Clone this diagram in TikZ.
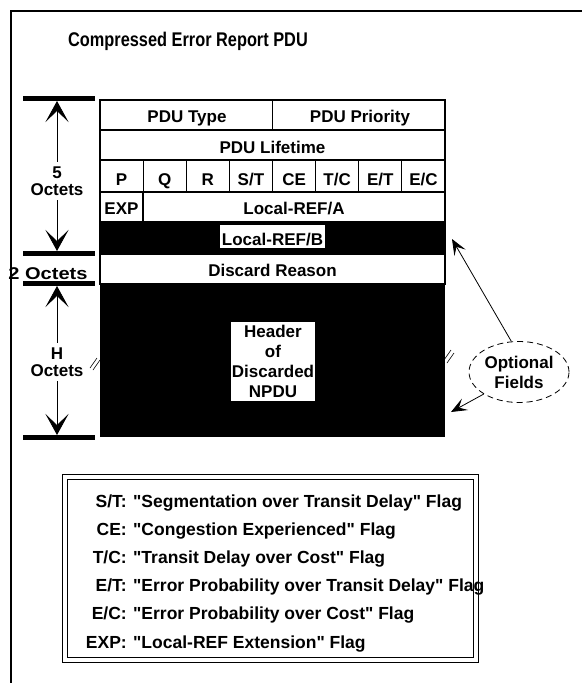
\documentclass[tikz,border=0pt]{standalone}
\usepackage{fontspec}
\setmainfont{Liberation Sans}
\usetikzlibrary{arrows.meta,shapes.geometric}

\begin{document}
\begin{tikzpicture}[x=1pt,y=-1pt,
    txt/.style={font=\bfseries\fontsize{17}{17}\selectfont},
    leg/.style={font=\bfseries\fontsize{17.5}{17}\selectfont, inner sep=0pt},
    bar/.style={line width=5pt},
    dim/.style={line width=0.8pt,
      {Stealth[length=21pt,width=23pt,inset=11pt]}-{Stealth[length=21pt,width=23pt,inset=11pt]}},
    ptr/.style={line width=0.8pt,-{Stealth[length=16pt,width=13pt,inset=7pt]}},
    grid/.style={line width=1.2pt}]
  \useasboundingbox (0,0) rectangle (582,683);

  % frame and title
  \draw[line width=2.5pt] (11,683) -- (11,11) -- (582,11);
  \node[font=\bfseries\fontsize{16.5}{20}\selectfont, anchor=base west, inner sep=0pt] (title) at (68,46) {\scalebox{0.99}[1.2]{Compressed Error Report PDU}};

  % black (optional) parts of the PDU
  \fill (100,222) rectangle (445,254);
  \fill (100,284) rectangle (445,437);

  % table
  \draw[grid] (100,100) rectangle (445,284);
  \foreach \y in {130,160,192,222,254}
      \draw[grid] (100,\y) -- (445,\y);
  \draw[grid] (272.5,100) -- (272.5,130);
  \foreach \i in {1,...,7}
      \draw[grid] (100+\i*43.125,160) -- (100+\i*43.125,192);
  \draw[grid] (143,192) -- (143,222);

  \node[txt, anchor=base] (type) at (187,122) {PDU Type};
  \node[txt, anchor=base] (prio) at (360,122) {PDU Priority};
  \node[txt, anchor=base] (life) at (272.5,153) {PDU Lifetime};
  \foreach \f [count=\i] in {P,Q,R,{S/T},CE,{T/C},{E/T},{E/C}}
    {
      \node[txt, anchor=base] (flag\i) at (100+\i*43.125-21.5625,185) {\f};
    }
  \node[txt, anchor=base] (exp) at (121.5,214) {EXP};
  \node[txt, anchor=base] (refa) at (294,214) {Local-REF/A};
  \node[txt, fill=white, inner sep=1.5pt, text height=19pt, text depth=1pt] (refb) at (272.5,236) {Local-REF/B};
  \node[txt, anchor=base] (reason) at (272.5,276) {Discard Reason};
  \node[font=\bfseries\fontsize{17}{20}\selectfont, fill=white, align=center,
        inner xsep=0.5pt, inner ysep=3pt] (npdu) at (273,361.5) {Header\\of\\Discarded\\NPDU};

  % break marks
  \draw[line width=0.6pt] (90,368) -- (97,358);
  \draw[line width=0.6pt] (93,370) -- (100,360);
  \draw[line width=0.6pt] (444,360) -- (451,350);
  \draw[line width=0.6pt] (447,363) -- (454,353);

  % size bars and arrows
  \foreach \y in {98.5,253.5,283.5,437.5}
    {
      \draw[bar] (23,\y) -- (95,\y);
    }
  \coordinate (top5) at (57,101);
  \coordinate (bot5) at (57,251);
  \coordinate (topH) at (57,286);
  \coordinate (botH) at (57,435);
  \draw[dim] (top5) -- (bot5);
  \draw[dim] (topH) -- (botH);
  \node[txt, fill=white, align=center, inner sep=5pt] (five) at (57,181) {5\\Octets};
  \node[txt, fill=white, align=center, inner sep=5pt] (hoct) at (57,362) {H\\Octets};
  \node[txt, anchor=base] (two) at (48,279) {\scalebox{1.18}[1]{2 Octets}};

  % optional fields
  \node[txt, ellipse, draw, dashed, dash pattern=on 6pt off 4pt, line width=0.8pt, align=center,
        inner sep=0pt, minimum width=100pt, minimum height=61pt] (opt) at (519,372) {Optional\\[3pt]Fields};
  \coordinate (refbtip) at (452,239);
  \coordinate (npdutip) at (451,412);
  \draw[ptr] (opt.104) -- (refbtip);
  \draw[ptr] (opt.212) -- (npdutip);

  % legend
  \draw[line width=1pt] (62,474) rectangle (478,662);
  \draw[line width=1pt] (67,479) rectangle (473,657);
  \foreach \k/\d [count=\i] in {{S/T}/{\textquotedbl Segmentation over Transit Delay\textquotedbl{} Flag},
                                 CE/{\textquotedbl Congestion Experienced\textquotedbl{} Flag},
                                 {T/C}/{\textquotedbl Transit Delay over Cost\textquotedbl{} Flag},
                                 {E/T}/{\textquotedbl Error Probability over Transit Delay\textquotedbl{} Flag},
                                 {E/C}/{\textquotedbl Error Probability over Cost\textquotedbl{} Flag},
                                 EXP/{\textquotedbl Local-REF Extension\textquotedbl{} Flag}}
    {
      \pgfmathsetmacro{\yb}{507+28.2*(\i-1)}
      \node[leg, anchor=base east] (key\i) at (127,\yb) {\k:};
      \node[leg, anchor=base west] (desc\i) at (133,\yb) {\d};
    }
\end{tikzpicture}
\end{document}
